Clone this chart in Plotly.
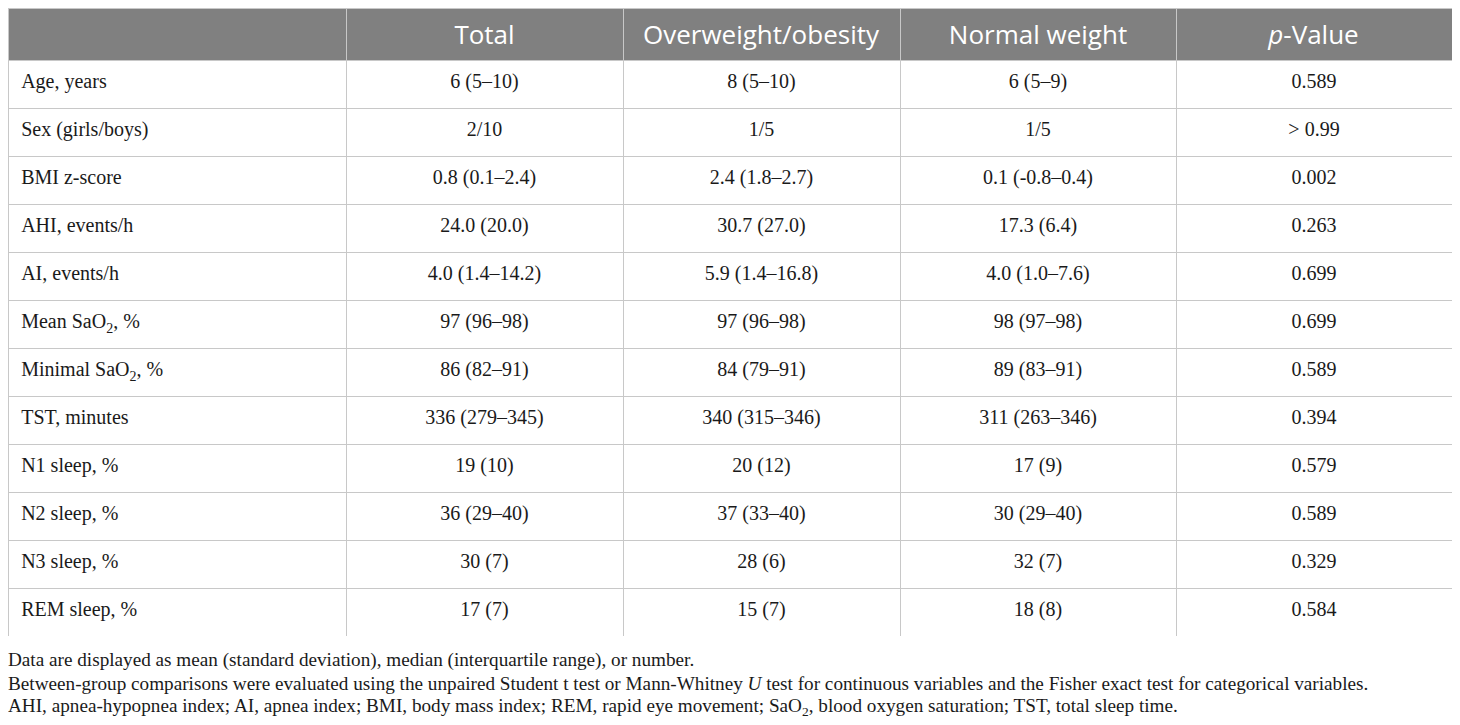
import plotly.graph_objects as go

# table content
header = ["", "Total", "Overweight/obesity", "Normal weight", "<i>p</i>-Value"]

variables = ["Age, years", "Sex (girls/boys)", "BMI z-score", "AHI, events/h",
             "AI, events/h", "Mean SaO<sub>2</sub>, %", "Minimal SaO<sub>2</sub>, %",
             "TST, minutes", "N1 sleep, %", "N2 sleep, %", "N3 sleep, %", "REM sleep, %"]

total = ["6 (5\u201310)", "2/10", "0.8 (0.1\u20132.4)", "24.0 (20.0)", "4.0 (1.4\u201314.2)",
         "97 (96\u201398)", "86 (82\u201391)", "336 (279\u2013345)", "19 (10)", "36 (29\u201340)",
         "30 (7)", "17 (7)"]

overweight = ["8 (5\u201310)", "1/5", "2.4 (1.8\u20132.7)", "30.7 (27.0)", "5.9 (1.4\u201316.8)",
              "97 (96\u201398)", "84 (79\u201391)", "340 (315\u2013346)", "20 (12)", "37 (33\u201340)",
              "28 (6)", "15 (7)"]

normal = ["6 (5\u20139)", "1/5", "0.1 (-0.8\u20130.4)", "17.3 (6.4)", "4.0 (1.0\u20137.6)",
          "98 (97\u201398)", "89 (83\u201391)", "311 (263\u2013346)", "17 (9)", "30 (29\u201340)",
          "32 (7)", "18 (8)"]

p_values = ["0.589", "> 0.99", "0.002", "0.263", "0.699", "0.699", "0.589", "0.394",
            "0.579", "0.589", "0.329", "0.584"]

footnotes = [
    "Data are displayed as mean (standard deviation), median (interquartile range), or number.",
    "Between-group comparisons were evaluated using the unpaired Student t test or Mann-Whitney <i>U</i> test "
    "for continuous variables and the Fisher exact test for categorical variables.",
    "AHI, apnea-hypopnea index; AI, apnea index; BMI, body mass index; REM, rapid eye movement; "
    "SaO<sub>2</sub>, blood oxygen saturation; TST, total sleep time.",
]

# page body has an 8px margin, so the figure is 8px smaller than the window
W, H = 1452, 717
line_col = "#c8c8c8"
table_bottom = 628


def marked(vals):
    # markup + no plain spaces makes plotly drop the text a bit lower in the cell
    return ["<span>%s</span>" % v.replace(" ", "\u00a0") for v in vals]


def lowered(vals, both=True):
    # an empty superscript raises the text box top, so the words sit lower
    pad = "<sup>\u00a0</sup>"
    return [pad + v + (pad if both else "") for v in marked(vals)]


fig = go.Figure()
fig.add_trace(go.Table(
    domain=dict(x=[0, 1444 / W], y=[1 - table_bottom / H, 1]),
    columnwidth=[338, 277, 277, 276, 276],
    header=dict(
        values=marked(header),
        fill_color="#808080",
        line_color=line_col,
        line_width=1,
        align="center",
        height=52,
        font=dict(family="Open Sans", size=26, color="white"),
    ),
    cells=dict(
        values=[lowered(variables, both=False), lowered(total), lowered(overweight),
                lowered(normal), lowered(p_values)],
        prefix=["\u200a", "", "", "", ""],
        fill_color="white",
        line_color=line_col,
        line_width=1,
        align=["left", "center", "center", "center", "center"],
        height=48,
        font=dict(family="Liberation Serif", size=20, color="#1a1a1a"),
    ),
))

for i, txt in enumerate(footnotes):
    fig.add_annotation(
        x=0, y=1 - (652 + 23.5 * i) / H, xref="paper", yref="paper",
        text=txt, showarrow=False, xanchor="left", yanchor="middle",
        borderpad=0, borderwidth=0,
        font=dict(family="Liberation Serif", size=19.2, color="#1a1a1a"),
    )

fig.update_layout(
    width=W, height=H,
    margin=dict(l=0, r=0, t=0, b=0),
    paper_bgcolor="white",
    plot_bgcolor="white",
)

fig.write_html("out.html")
